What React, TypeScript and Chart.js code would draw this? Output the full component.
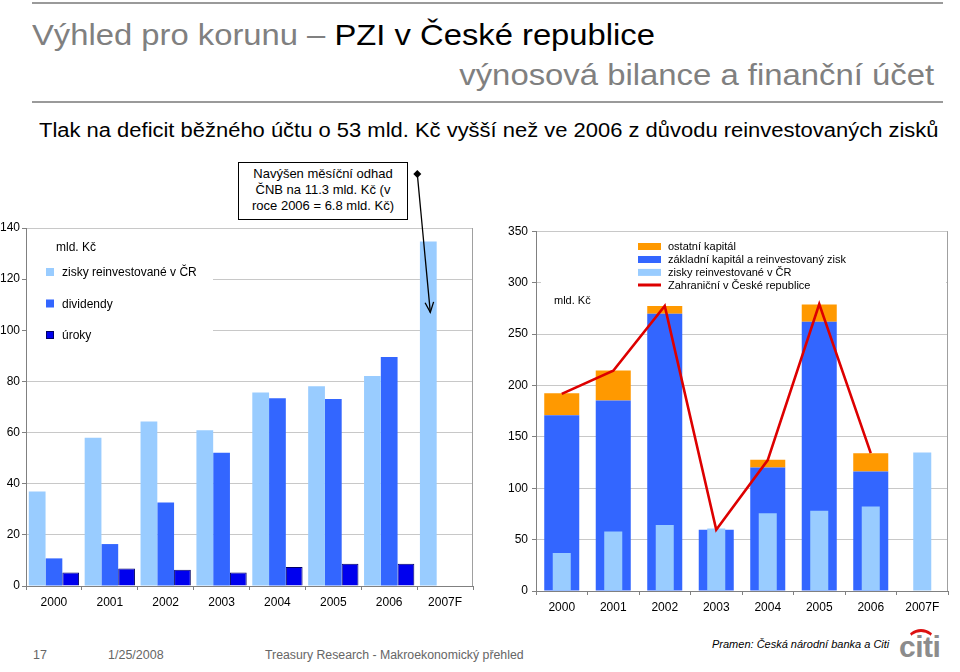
import React, { useEffect, useRef } from 'react';
import { Chart, registerables } from 'chart.js';

Chart.register(...registerables);

const FONT = '"Liberation Sans", Arial, sans-serif';

// ---- data ----
const YEARS = ['2000', '2001', '2002', '2003', '2004', '2005', '2006', '2007F'];

// left chart (mld. Kč)
const REINVESTED = [37, 58, 64.3, 60.9, 75.7, 78.1, 82.1, 134.7];
const DIVIDENDS = [10.8, 16.4, 32.7, 52.1, 73.4, 73.1, 89.6, null];
const INTEREST = [5.3, 6.8, 6.4, 5.3, 7.4, 8.7, 8.7, null];
const LEFT_MIN = 0;
const LEFT_MAX = 140;
const LEFT_STEP = 20;

// right chart (mld. Kč)
const BASIC_CAPITAL = [171, 185.3, 269.7, 59.6, 120.2, 262, 116.3, null];
const OTHER_CAPITAL = [21.3, 29.3, 7.5, 0, 7.4, 16.8, 17.8, null];
const FDI_TOTAL = [191.7, 214.3, 277.2, 59.6, 127.3, 279.1, 134.1, null];
const RIGHT_MIN = 0;
const RIGHT_MAX = 350;
const RIGHT_STEP = 50;

const ARROW_TARGET = 107;

const C_LIGHT = '#99CCFF';
const C_MID = '#3366FF';
const C_DARK = '#0000EE';
const C_ORANGE = '#FF9900';
const C_RED = '#DD0000';

Chart.defaults.font.family = FONT;
Chart.defaults.color = '#000';

const leftDecor = {
  id: 'leftDecor',
  beforeDatasetsDraw(chart: any) {
    const { ctx, chartArea: a } = chart;
    ctx.save();
    ctx.fillStyle = '#fff';
    ctx.fillRect(a.left + 1, a.top + 1, 186, 116);
    ctx.strokeStyle = '#a0a0a0';
    ctx.lineWidth = 1;
    ctx.beginPath();
    ctx.moveTo(Math.round(a.right) - 0.5, a.top);
    ctx.lineTo(Math.round(a.right) - 0.5, a.bottom);
    ctx.stroke();
    ctx.restore();
  },
  afterDatasetsDraw(chart: any) {
    const { ctx, chartArea: a } = chart;
    ctx.save();
    ctx.font = '12px ' + FONT;
    ctx.textBaseline = 'middle';
    ctx.fillStyle = '#000';
    ctx.fillText('mld. Kč', a.left + 30, a.top + 20);
    const items = [
      { c: C_LIGHT, t: chart.data.datasets[0].label, y: 44, b: null },
      { c: C_MID, t: chart.data.datasets[1].label, y: 75.5, b: null },
      { c: C_DARK, t: chart.data.datasets[2].label, y: 107, b: '#000066' },
    ];
    items.forEach((it) => {
      ctx.fillStyle = it.c;
      ctx.fillRect(a.left + 20, a.top + it.y - 4, 8, 8);
      if (it.b) {
        ctx.strokeStyle = it.b;
        ctx.lineWidth = 1;
        ctx.strokeRect(a.left + 20.5, a.top + it.y - 3.5, 7, 7);
      }
      ctx.fillStyle = '#000';
      ctx.fillText(it.t, a.left + 36, a.top + it.y + 1);
    });

    // arrow
    const bar = chart.getDatasetMeta(0).data[7];
    const tipX = bar.x + 2;
    const tipY = chart.scales.y.getPixelForValue(ARROW_TARGET);
    const sx = tipX - 13;
    const sy = a.top - 54;
    ctx.strokeStyle = '#000';
    ctx.lineWidth = 1.3;
    ctx.beginPath();
    ctx.moveTo(sx, sy);
    ctx.lineTo(tipX, tipY);
    ctx.stroke();
    const ang = Math.atan2(tipY - sy, tipX - sx);
    const L = 11;
    ctx.beginPath();
    ctx.moveTo(tipX - L * Math.cos(ang - 0.4), tipY - L * Math.sin(ang - 0.4));
    ctx.lineTo(tipX, tipY);
    ctx.lineTo(tipX - L * Math.cos(ang + 0.4), tipY - L * Math.sin(ang + 0.4));
    ctx.stroke();
    ctx.fillStyle = '#000';
    ctx.beginPath();
    ctx.moveTo(sx, sy - 4);
    ctx.lineTo(sx + 4, sy);
    ctx.lineTo(sx, sy + 4);
    ctx.lineTo(sx - 4, sy);
    ctx.closePath();
    ctx.fill();
    ctx.restore();
  },
};

const rightDecor = {
  id: 'rightDecor',
  beforeDatasetsDraw(chart: any) {
    const { ctx, chartArea: a } = chart;
    ctx.save();
    ctx.fillStyle = '#fff';
    ctx.fillRect(a.left + 5, a.top + 1, a.right - a.left - 7, 66);
    ctx.strokeStyle = '#a0a0a0';
    ctx.lineWidth = 1;
    ctx.beginPath();
    ctx.moveTo(Math.round(a.right) - 0.5, a.top);
    ctx.lineTo(Math.round(a.right) - 0.5, a.bottom);
    ctx.stroke();
    ctx.restore();
  },
  afterDatasetsDraw(chart: any) {
    const { ctx, chartArea: a } = chart;
    const ds = chart.data.datasets;
    ctx.save();
    ctx.font = '11px ' + FONT;
    ctx.textBaseline = 'middle';
    const x0 = a.left + 102;
    const rows = [
      { d: ds[3], y: 15.3, kind: 'box' },
      { d: ds[2], y: 28.3, kind: 'box' },
      { d: ds[1], y: 41.2, kind: 'box' },
      { d: ds[0], y: 53.8, kind: 'line' },
    ];
    rows.forEach((r) => {
      if (r.kind === 'box') {
        ctx.fillStyle = r.d.backgroundColor;
        ctx.fillRect(x0, a.top + r.y - 3.5, 23, 7);
      } else {
        ctx.strokeStyle = r.d.borderColor;
        ctx.lineWidth = 3;
        ctx.beginPath();
        ctx.moveTo(x0, a.top + r.y);
        ctx.lineTo(x0 + 23, a.top + r.y);
        ctx.stroke();
      }
      ctx.fillStyle = '#000';
      ctx.fillText(r.d.label, x0 + 30, a.top + r.y + 0.5);
    });
    ctx.fillText('mld. Kč', a.left + 18, a.top + 69.5);
    ctx.restore();
  },
};

function axisX() {
  return {
    offset: true,
    grid: {
      offset: true,
      drawOnChartArea: false,
      drawTicks: true,
      tickLength: 4,
      tickColor: '#808080',
    },
    border: { color: '#808080' },
    ticks: { font: { size: 12 }, color: '#000', padding: 5, maxRotation: 0, autoSkip: false },
  };
}

function LeftChart() {
  const ref = useRef<HTMLCanvasElement | null>(null);
  useEffect(() => {
    if (!ref.current) return;
    const chart = new Chart(ref.current, {
      type: 'bar',
      data: {
        labels: YEARS,
        datasets: [
          { label: 'zisky reinvestované v ČR', data: REINVESTED, backgroundColor: C_LIGHT, borderWidth: 0 },
          { label: 'dividendy', data: DIVIDENDS, backgroundColor: C_MID, borderWidth: 0 },
          {
            label: 'úroky',
            data: INTEREST,
            backgroundColor: C_DARK,
            borderColor: '#000066',
            borderWidth: 1,
          },
        ] as any,
      },
      options: {
        responsive: false,
        animation: false,
        events: [],
        datasets: { bar: { categoryPercentage: 0.9, barPercentage: 1 } } as any,
        layout: { padding: { left: 0, top: 73, right: 7, bottom: 0 } },
        plugins: { legend: { display: false }, tooltip: { enabled: false }, title: { display: false } },
        scales: {
          x: {
            ...axisX(),
            afterFit: (s: any) => {
              s.height = 34;
            },
          } as any,
          y: {
            min: LEFT_MIN,
            max: LEFT_MAX,
            ticks: { stepSize: LEFT_STEP, font: { size: 12 }, color: '#000', padding: 2 },
            grid: { color: '#c8c8c8', tickColor: '#808080', tickLength: 4 },
            border: { color: '#808080' },
            afterFit: (s: any) => {
              s.width = 26;
            },
          } as any,
        },
      },
      plugins: [leftDecor],
    });
    return () => chart.destroy();
  }, []);
  return (
    <canvas
      ref={ref}
      width={480}
      height={465}
      style={{ position: 'absolute', left: 0, top: 155, width: 480, height: 465 }}
    />
  );
}

function RightChart() {
  const ref = useRef<HTMLCanvasElement | null>(null);
  useEffect(() => {
    if (!ref.current) return;
    const chart = new Chart(ref.current, {
      type: 'bar',
      data: {
        labels: YEARS,
        datasets: [
          {
            type: 'line',
            label: 'Zahraniční v České republice',
            data: FDI_TOTAL,
            borderColor: C_RED,
            backgroundColor: C_RED,
            borderWidth: 2.6,
            pointRadius: 0,
            tension: 0,
            stack: 'line',
            order: 0,
          },
          {
            label: 'zisky reinvestované v ČR',
            data: REINVESTED,
            backgroundColor: C_LIGHT,
            stack: 'b',
            grouped: false,
            barPercentage: 0.35,
            categoryPercentage: 1,
            order: 1,
          },
          {
            label: 'základní kapitál a reinvestovaný zisk',
            data: BASIC_CAPITAL,
            backgroundColor: C_MID,
            stack: 'a',
            grouped: false,
            barPercentage: 0.68,
            categoryPercentage: 1,
            order: 2,
          },
          {
            label: 'ostatní kapitál',
            data: OTHER_CAPITAL,
            backgroundColor: C_ORANGE,
            stack: 'a',
            grouped: false,
            barPercentage: 0.68,
            categoryPercentage: 1,
            order: 3,
          },
        ] as any,
      },
      options: {
        responsive: false,
        animation: false,
        events: [],
        layout: { padding: { left: 0, top: 9, right: 12, bottom: 0 } },
        plugins: { legend: { display: false }, tooltip: { enabled: false }, title: { display: false } },
        scales: {
          x: {
            ...axisX(),
            afterFit: (s: any) => {
              s.height = 29;
            },
          } as any,
          y: {
            stacked: true,
            min: RIGHT_MIN,
            max: RIGHT_MAX,
            ticks: { stepSize: RIGHT_STEP, font: { size: 12 }, color: '#000', padding: 4 },
            grid: { color: '#c8c8c8', tickColor: '#808080', tickLength: 4 },
            border: { color: '#808080' },
            afterFit: (s: any) => {
              s.width = 56;
            },
          } as any,
        },
      },
      plugins: [rightDecor],
    });
    return () => chart.destroy();
  }, []);
  return (
    <canvas
      ref={ref}
      width={480}
      height={400}
      style={{ position: 'absolute', left: 480, top: 220, width: 480, height: 400 }}
    />
  );
}

export default function App() {
  const abs = (s: React.CSSProperties): React.CSSProperties => ({ position: 'absolute', whiteSpace: 'nowrap', ...s });
  return (
    <div
      style={{
        position: 'absolute',
        left: 0,
        top: 0,
        width: 960,
        height: 672,
        background: '#fff',
        fontFamily: FONT,
        overflow: 'hidden',
      }}
    >
      <div style={abs({ left: 32, top: 2, width: 911, height: 2, background: '#9a9a9a' })} />
      <div
        style={abs({
          left: 32,
          top: 20.5,
          fontSize: 29,
          lineHeight: '29px',
          transform: 'scaleX(1.13)',
          transformOrigin: 'left top',
        })}
      >
        <span style={{ color: '#808080' }}>Výhled pro korunu – </span>
        <span style={{ color: '#000' }}>PZI v České republice</span>
      </div>
      <div
        style={abs({
          right: 26,
          top: 61,
          fontSize: 29,
          lineHeight: '29px',
          color: '#808080',
          transform: 'scaleX(1.133)',
          transformOrigin: 'right top',
        })}
      >
        výnosová bilance a finanční účet
      </div>
      <div style={abs({ left: 32, top: 101, width: 911, height: 2, background: '#9a9a9a' })} />
      <div
        style={abs({
          left: 39,
          top: 121,
          fontSize: 19.5,
          lineHeight: '19.5px',
          color: '#000',
          transform: 'scaleX(1.126)',
          transformOrigin: 'left top',
        })}
      >
        Tlak na deficit běžného účtu o 53 mld. Kč vyšší než ve 2006 z důvodu reinvestovaných zisků
      </div>

      <LeftChart />
      <RightChart />

      <div
        style={abs({
          left: 238,
          top: 162,
          width: 168,
          height: 53,
          border: '1px solid #000',
          background: '#fff',
          fontSize: 13,
          lineHeight: '16px',
          textAlign: 'center',
          paddingTop: 3,
          boxSizing: 'content-box',
          color: '#000',
        })}
      >
        Navýšen měsíční odhad
        <br />
        ČNB na 11.3 mld. Kč (v
        <br />
        roce 2006 = 6.8 mld. Kč)
      </div>

      <div style={abs({ left: 33, top: 649, fontSize: 12.5, lineHeight: '13px', color: '#666' })}>17</div>
      <div style={abs({ left: 108, top: 649, fontSize: 12.5, lineHeight: '13px', color: '#666' })}>1/25/2008</div>
      <div style={abs({ left: 265, top: 649, fontSize: 12.3, lineHeight: '13px', color: '#666' })}>
        Treasury Research - Makroekonomický přehled
      </div>
      <div
        style={abs({ left: 712, top: 638, fontSize: 11, lineHeight: '12px', fontStyle: 'italic', color: '#000' })}
      >
        Pramen: Česká národní banka a Citi
      </div>
      <div
        style={abs({
          left: 907,
          top: 629,
          width: 28,
          height: 12,
          borderTop: '3px solid #dd1111',
          borderLeft: '2px solid transparent',
          borderRight: '2px solid transparent',
          borderRadius: '50% 50% 0 0 / 100% 100% 0 0',
          boxSizing: 'border-box',
        })}
      />
      <div
        style={abs({
          left: 899,
          top: 632,
          fontSize: 30,
          lineHeight: '30px',
          fontWeight: 'bold',
          color: '#8c8c8c',
          letterSpacing: -0.5,
        })}
      >
        citi
      </div>
    </div>
  );
}
